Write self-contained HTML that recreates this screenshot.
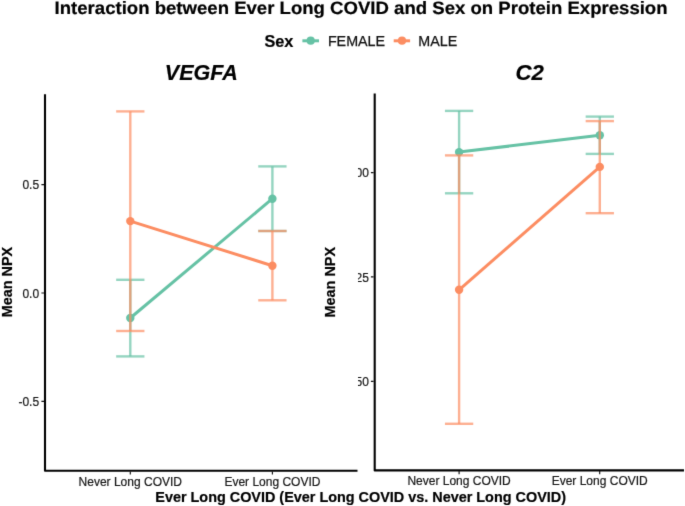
<!DOCTYPE html>
<html><head><meta charset="utf-8">
<style>
html,body{margin:0;padding:0;background:#fff;width:685px;height:506px;overflow:hidden;}
svg{display:block;will-change:transform;font-family:"Liberation Sans",sans-serif;}
.t{fill:#000;font-weight:bold;stroke:#000;stroke-width:0.2px;}
.ax{fill:#161616;font-size:12px;stroke:#161616;stroke-width:0.2px;}
.g{stroke:#66C2A5;fill:none;}
.o{stroke:#FC8D62;fill:none;}
.eb{stroke-width:2.4;fill:none;}
</style></head>
<body>
<svg width="685" height="506" viewBox="0 0 685 506">
<defs><filter id="bl" x="0" y="0" width="685" height="506" filterUnits="userSpaceOnUse" color-interpolation-filters="sRGB"><feConvolveMatrix order="3" kernelMatrix="0.0100 0.0800 0.0100 0.0800 0.6400 0.0800 0.0100 0.0800 0.0100" edgeMode="duplicate"/></filter>
<clipPath id="rc"><rect x="358" y="0" width="330" height="506"/></clipPath>
</defs><g filter="url(#bl)"><rect width="685" height="506" fill="#fff"/>
<!-- Title -->
<text class="t" font-size="17.9" text-rendering="geometricPrecision" transform="translate(54.6 14) scale(1.038 1)">Interaction between Ever Long COVID and Sex on Protein Expression</text>

<!-- Legend -->
<text class="t" x="264.4" y="46.9" font-size="16.3">Sex</text>
<line x1="302.4" y1="40.8" x2="319.0" y2="40.8" stroke="#66C2A5" stroke-width="3"/>
<circle cx="310.7" cy="40.7" r="4.1" fill="#66C2A5"/>
<text x="327.9" y="45.8" font-size="14.3" fill="#111" stroke="#111" stroke-width="0.25">FEMALE</text>
<line x1="393.7" y1="40.8" x2="410.1" y2="40.8" stroke="#FC8D62" stroke-width="3"/>
<circle cx="402" cy="40.7" r="4.1" fill="#FC8D62"/>
<text x="418.36" y="45.8" font-size="14.3" fill="#111" stroke="#111" stroke-width="0.25">MALE</text>

<!-- Panel titles -->
<text class="t" x="164.8" y="79.8" font-size="21.5" font-style="italic">VEGFA</text>
<text class="t" x="515.5" y="79.9" font-size="22.2" font-style="italic">C2</text>

<!-- LEFT PANEL -->
<g>
<path d="M45 94.2 V470.75 H357.5" stroke="#000" stroke-width="2.1" fill="none" stroke-linejoin="round"/>
<path d="M41.4 184.6 H44 M41.4 293 H44 M41.4 401.4 H44 M130.3 471.5 V474.6 M272.4 471.5 V474.6" stroke="#111" stroke-width="1.15"/>
<text class="ax" x="39.1" y="189.1" text-anchor="end">0.5</text>
<text class="ax" x="39.1" y="297.5" text-anchor="end">0.0</text>
<text class="ax" x="39.1" y="405.9" text-anchor="end">-0.5</text>
<text class="ax" x="130.3" y="485.5" text-anchor="middle">Never Long COVID</text>
<text class="ax" x="272.4" y="485.5" text-anchor="middle">Ever Long COVID</text>
<text class="t" font-size="14.4" text-anchor="middle" transform="translate(12.1 282.1) rotate(-90)">Mean NPX</text>
<!-- lines -->
<line x1="130.3" y1="318" x2="272.4" y2="198.7" class="g" stroke-width="3"/>
<line x1="130.3" y1="221.1" x2="272.4" y2="265.7" class="o" stroke-width="3"/>
<circle cx="130.3" cy="318" r="4.2" fill="#66C2A5"/>
<circle cx="272.4" cy="198.7" r="4.2" fill="#66C2A5"/>
<circle cx="130.3" cy="221.1" r="4.2" fill="#FC8D62"/>
<circle cx="272.4" cy="265.7" r="4.2" fill="#FC8D62"/>
<!-- error bars -->
<path d="M116.15 279.8H144.45" stroke="#66C2A5" stroke-opacity="0.7" stroke-width="2.4" fill="none"/><path d="M130.3 279.8V356.4" stroke="#66C2A5" stroke-opacity="0.7" stroke-width="2.4" fill="none"/><path d="M116.15 356.4H144.45" stroke="#66C2A5" stroke-opacity="0.7" stroke-width="2.4" fill="none"/>
<path d="M258.25 166.4H286.55" stroke="#66C2A5" stroke-opacity="0.7" stroke-width="2.4" fill="none"/><path d="M272.4 166.4V231" stroke="#66C2A5" stroke-opacity="0.7" stroke-width="2.4" fill="none"/><path d="M258.25 231H286.55" stroke="#66C2A5" stroke-opacity="0.7" stroke-width="2.4" fill="none"/>
<path d="M116.15 111.4H144.45" stroke="#FC8D62" stroke-opacity="0.7" stroke-width="2.4" fill="none"/><path d="M130.3 111.4V331" stroke="#FC8D62" stroke-opacity="0.7" stroke-width="2.4" fill="none"/><path d="M116.15 331H144.45" stroke="#FC8D62" stroke-opacity="0.7" stroke-width="2.4" fill="none"/>
<path d="M258.25 231H286.55" stroke="#FC8D62" stroke-opacity="0.7" stroke-width="2.4" fill="none"/><path d="M272.4 231V300.3" stroke="#FC8D62" stroke-opacity="0.7" stroke-width="2.4" fill="none"/><path d="M258.25 300.3H286.55" stroke="#FC8D62" stroke-opacity="0.7" stroke-width="2.4" fill="none"/>
</g>

<!-- RIGHT PANEL -->
<g>
<path d="M374.7 93.4 V470.4 H684" stroke="#000" stroke-width="2.1" fill="none" stroke-linejoin="round"/>
<path d="M370.9 172.6 H373.6 M370.9 276.9 H373.6 M370.9 381.3 H373.6 M459.1 471 V474.2 M599.7 471 V474.2" stroke="#111" stroke-width="1.15"/>
<g clip-path="url(#rc)">
<text class="ax" x="368.9" y="177.1" text-anchor="end">-1.00</text>
<text class="ax" x="368.9" y="281.9" text-anchor="end">-1.25</text>
<text class="ax" x="368.9" y="385.8" text-anchor="end">-1.50</text>
</g>
<text class="ax" x="459.1" y="485.3" text-anchor="middle">Never Long COVID</text>
<text class="ax" x="599.7" y="485.3" text-anchor="middle">Ever Long COVID</text>
<text class="t" font-size="14.4" text-anchor="middle" transform="translate(335.1 282.2) rotate(-90)">Mean NPX</text>
<line x1="459.1" y1="152.1" x2="599.8" y2="135.2" class="g" stroke-width="3"/>
<line x1="459.1" y1="289.8" x2="599.8" y2="166.9" class="o" stroke-width="3"/>
<circle cx="459.1" cy="152.1" r="4.2" fill="#66C2A5"/>
<circle cx="599.8" cy="135.2" r="4.2" fill="#66C2A5"/>
<circle cx="459.1" cy="289.8" r="4.2" fill="#FC8D62"/>
<circle cx="599.8" cy="166.9" r="4.2" fill="#FC8D62"/>
<path d="M444.95 110.9H473.25" stroke="#66C2A5" stroke-opacity="0.7" stroke-width="2.4" fill="none"/><path d="M459.1 110.9V193.3" stroke="#66C2A5" stroke-opacity="0.7" stroke-width="2.4" fill="none"/><path d="M444.95 193.3H473.25" stroke="#66C2A5" stroke-opacity="0.7" stroke-width="2.4" fill="none"/>
<path d="M585.65 116.6H613.95" stroke="#66C2A5" stroke-opacity="0.7" stroke-width="2.4" fill="none"/><path d="M599.8 116.6V153.9" stroke="#66C2A5" stroke-opacity="0.7" stroke-width="2.4" fill="none"/><path d="M585.65 153.9H613.95" stroke="#66C2A5" stroke-opacity="0.7" stroke-width="2.4" fill="none"/>
<path d="M444.95 155.4H473.25" stroke="#FC8D62" stroke-opacity="0.7" stroke-width="2.4" fill="none"/><path d="M459.1 155.4V423.8" stroke="#FC8D62" stroke-opacity="0.7" stroke-width="2.4" fill="none"/><path d="M444.95 423.8H473.25" stroke="#FC8D62" stroke-opacity="0.7" stroke-width="2.4" fill="none"/>
<path d="M585.65 121.1H613.95" stroke="#FC8D62" stroke-opacity="0.7" stroke-width="2.4" fill="none"/><path d="M599.8 121.1V213.2" stroke="#FC8D62" stroke-opacity="0.7" stroke-width="2.4" fill="none"/><path d="M585.65 213.2H613.95" stroke="#FC8D62" stroke-opacity="0.7" stroke-width="2.4" fill="none"/>
</g>

<!-- x axis title -->
<text class="t" x="155.3" y="501.6" font-size="14.41">Ever Long COVID (Ever Long COVID vs. Never Long COVID)</text>
</g></svg>
</body></html>
